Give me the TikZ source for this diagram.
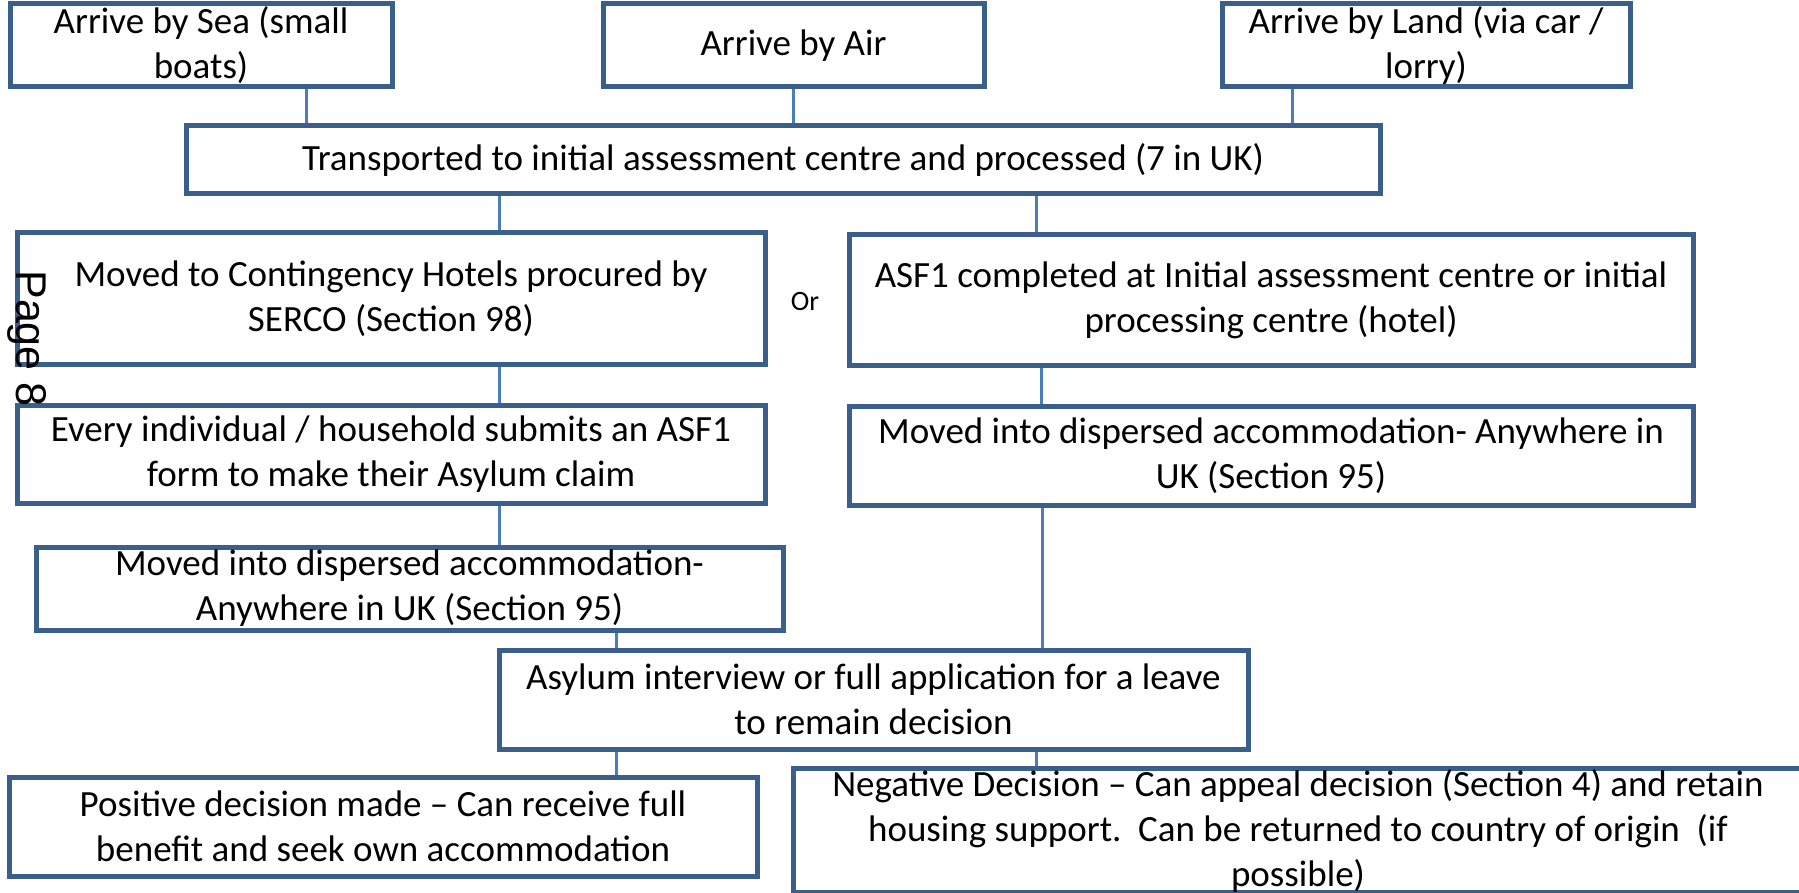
\documentclass[tikz,border=0pt]{standalone}
\usepackage{fontspec}
\setmainfont{Carlito}
\newfontfamily\pagefont{Liberation Sans}
\usepackage{xcolor}
\usepackage{tikz}
\definecolor{boxblue}{HTML}{3A5F8B}
\definecolor{linkblue}{HTML}{4A7EBB}
\tikzset{
  box/.style={draw=boxblue, line width=2.5pt, rectangle, inner sep=0pt, align=center,
    font=\fontsize{18.5}{22.5}\selectfont},
  link/.style={draw=linkblue, line width=1.5pt}
}

\begin{document}
\begin{tikzpicture}[x=0.5pt,y=-0.5pt]
        \useasboundingbox (0,0) rectangle (1799,893);
        \node[box, minimum width=191pt, minimum height=41.5pt] (sea) at (201,45.5) {Arrive by Sea (small\\boats)};
        \node[box, minimum width=190.5pt, minimum height=41.5pt] (air) at (793.5,45.5) {Arrive by Air};
        \node[box, minimum width=204pt, minimum height=41.5pt] (land) at (1426,45.5) {Arrive by Land (via car /\\lorry)};
        \node[box, minimum width=597pt, minimum height=34pt] (trans) at (783,160) {Transported to initial assessment centre and processed (7 in UK)};
        \node[box, minimum width=374pt, minimum height=65.5pt] (cont) at (391,298.5) {Moved to Contingency Hotels procured by\\SERCO (Section 98)};
        \node[font=\fontsize{14}{16}\selectfont, inner sep=0pt] (or) at (805,302) {Or};
        \node[box, minimum width=422pt, minimum height=65pt] (asf) at (1271,300) {ASF1 completed at Initial assessment centre or initial\\processing centre (hotel)};
        \node[box, minimum width=374pt, minimum height=49pt] (every) at (391,454) {Every individual / household submits an ASF1\\form to make their Asylum claim};
        \node[box, minimum width=422pt, minimum height=49.5pt] (movr) at (1271,455.5) {Moved into dispersed accommodation- Anywhere in\\UK (Section 95)};
        \node[box, minimum width=373.5pt, minimum height=41.5pt] (movl) at (409.5,588.5) {Moved into dispersed accommodation-\\Anywhere in UK (Section 95)};
        \node[box, minimum width=374.5pt, minimum height=49.5pt] (asyl) at (873.5,699.5) {Asylum interview or full application for a leave\\to remain decision};
        \node[box, minimum width=374pt, minimum height=49.5pt] (pos) at (383,826.5) {Positive decision made -- Can receive full\\benefit and seek own accommodation};
        \node[box, minimum width=505pt, minimum height=61.5pt] (neg) at (1298,830.5) {Negative Decision -- Can appeal decision (Section 4) and retain\\housing support.\ \ Can be returned to country of origin\ \ (if\\possible)};
        \node[rotate=-90, anchor=base west, inner sep=0pt, font=\pagefont\fontsize{21.5}{24}\selectfont] (pg) at (17,270) {Page 8};
        \draw[link] (sea.south -| 306,0) -- (trans.north -| 306,0);
        \draw[link] (air.south -| 793,0) -- (trans.north -| 793,0);
        \draw[link] (land.south -| 1292,0) -- (trans.north -| 1292,0);
        \draw[link] (trans.south -| 499,0) -- (cont.north -| 499,0);
        \draw[link] (trans.south -| 1036,0) -- (asf.north -| 1036,0);
        \draw[link] (cont.south -| 499,0) -- (every.north -| 499,0);
        \draw[link] (asf.south -| 1041,0) -- (movr.north -| 1041,0);
        \draw[link] (every.south -| 499,0) -- (movl.north -| 499,0);
        \draw[link] (movl.south -| 616,0) -- (asyl.north -| 616,0);
        \draw[link] (movr.south -| 1042,0) -- (asyl.north -| 1042,0);
        \draw[link] (asyl.south -| 616,0) -- (pos.north -| 616,0);
        \draw[link] (asyl.south -| 1036,0) -- (neg.north -| 1036,0);
      \end{tikzpicture}
\end{document}
